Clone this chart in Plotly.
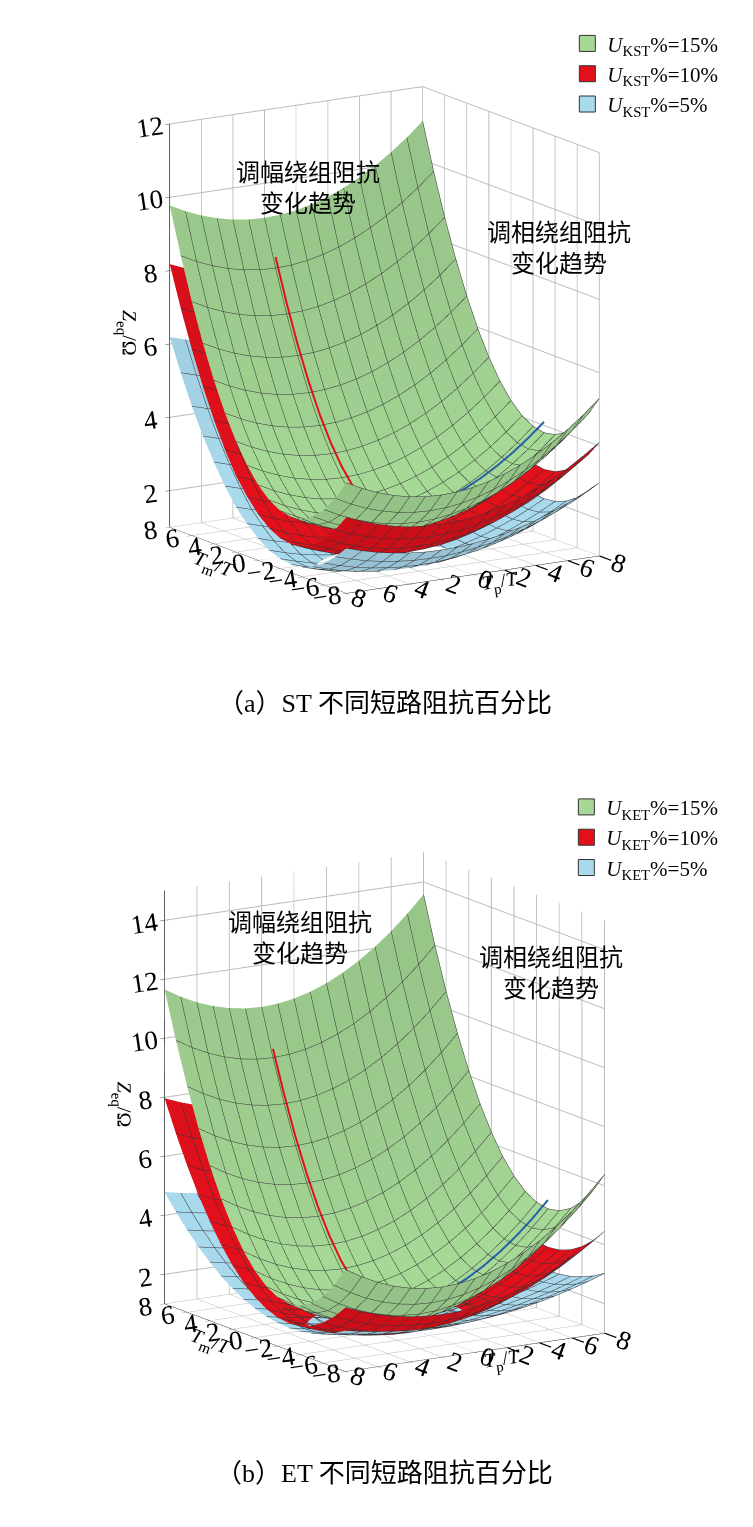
import plotly.graph_objects as go
import numpy as np

Tm = list(range(-8, 9))
Tp = list(range(-8, 9))

a_green_zm = [1.5,0.96,0.54,0.24,0.06,0,0.06,0.24,0.54,0.96,1.5,2.16,2.94,3.84,4.86,6.0,7.26]
a_green_zp = [3.8,3.42,3.08,2.78,2.52,2.3,2.12,1.98,1.88,1.82,1.8,1.82,1.88,1.98,2.12,2.3,2.52]
a_red_zm = [1.3,0.85,0.48,0.21,0.05,0,0.05,0.21,0.48,0.85,1.3,1.9,2.6,3.4,4.3,5.3,6.4]
a_red_zp = [2.8,2.5,2.22,1.98,1.78,1.6,1.46,1.34,1.26,1.22,1.2,1.22,1.26,1.34,1.46,1.6,1.78]
a_blue_zm = [1.0,0.66,0.37,0.16,0.04,0,0.04,0.16,0.37,0.66,1.0,1.46,2.0,2.6,3.3,4.1,4.96]
a_blue_zp = [2.0,1.77,1.57,1.39,1.23,1.1,0.99,0.91,0.85,0.81,0.8,0.81,0.85,0.91,0.99,1.1,1.23]

# panel (b)
b_green_zm = [1.88,1.2,0.68,0.3,0.08,0,0.08,0.3,0.68,1.2,1.88,2.7,3.68,4.8,6.08,7.5,9.08]
b_green_zp = [4.5,3.93,3.42,2.97,2.58,2.25,1.98,1.77,1.62,1.53,1.5,1.53,1.62,1.77,1.98,2.25,2.58]
b_red_zm = [1.25,0.8,0.45,0.2,0.05,0,0.05,0.2,0.45,0.8,1.25,1.8,2.45,3.2,4.05,5.0,6.05]
b_red_zp = [3.2,2.82,2.48,2.18,1.92,1.7,1.52,1.38,1.28,1.22,1.2,1.22,1.28,1.38,1.52,1.7,1.92]
b_blue_zm = [0.63,0.4,0.23,0.1,0.03,0,0.03,0.1,0.23,0.4,0.63,0.9,1.23,1.6,2.03,2.5,3.03]
b_blue_zp = [2.4,2.21,2.04,1.89,1.76,1.65,1.56,1.49,1.44,1.41,1.4,1.41,1.44,1.49,1.56,1.65,1.76]

a_labels = ["<i>U</i><sub>KST</sub>%=15%", "<i>U</i><sub>KST</sub>%=10%", "<i>U</i><sub>KST</sub>%=5%"]
b_labels = ["<i>U</i><sub>KET</sub>%=15%", "<i>U</i><sub>KET</sub>%=10%", "<i>U</i><sub>KET</sub>%=5%"]
colors = ["#a6d896", "#e3101c", "#a9d9ec"]
FONT = "Liberation Serif, Noto Sans CJK SC"

fig = go.Figure()

def grid(zm, zp):
    return np.add.outer(np.array(zp), np.array(zm))

def add_panel(scene, legend, profiles, labels):
    for (zm, zp), col, lab in zip(profiles, colors, labels):
        Z = grid(zm, zp)
        fig.add_trace(go.Surface(
            x=Tm, y=Tp, z=Z, scene=scene, showscale=False,
            colorscale=[[0, col], [1, col]], opacity=1,
            lighting=dict(ambient=0.9, diffuse=0.2, specular=0.05),
            contours=dict(
                x=dict(show=True, start=-8, end=8, size=1, color="#333", width=1),
                y=dict(show=True, start=-8, end=8, size=1, color="#333", width=1)),
            hoverinfo="skip", showlegend=False))
        fig.add_trace(go.Scatter3d(
            x=[None], y=[None], z=[None], scene=scene, mode="markers",
            marker=dict(symbol="square", size=16, color=col, line=dict(color="#333", width=1)),
            name=lab, legend=legend, showlegend=True))
    g_zm, g_zp = profiles[0]
    idx = list(range(3, 16))
    fig.add_trace(go.Scatter3d(x=[Tm[i] for i in idx], y=[2]*len(idx),
        z=[g_zm[i] + g_zp[10] + 0.3 for i in idx], scene=scene, mode="lines",
        line=dict(color="#e3101c", width=4), showlegend=False, hoverinfo="skip"))
    idx2 = list(range(0, 11))
    fig.add_trace(go.Scatter3d(x=[-3]*len(idx2), y=[Tp[i] for i in idx2],
        z=[g_zp[i] + g_zm[5] + 0.3 for i in idx2], scene=scene, mode="lines",
        line=dict(color="#2a5fa8", width=4), showlegend=False, hoverinfo="skip"))

add_panel("scene", "legend",
          [(a_green_zm, a_green_zp), (a_red_zm, a_red_zp), (a_blue_zm, a_blue_zp)], a_labels)
add_panel("scene2", "legend2",
          [(b_green_zm, b_green_zp), (b_red_zm, b_red_zp), (b_blue_zm, b_blue_zp)], b_labels)

ax = dict(showbackground=True, backgroundcolor="white", gridcolor="#bbb",
          linecolor="black", showline=True, ticks="outside",
          tickfont=dict(size=18, family=FONT), tickvals=list(range(-8, 9, 2)),
          range=[-8, 8], title_font=dict(size=20, family=FONT))
cam = dict(eye=dict(x=-1.75, y=1.1, z=0.5), center=dict(x=0, y=0, z=0.0),
           projection=dict(type="orthographic"))

def scene_cfg(domain_y, zr, zt):
    return dict(domain=dict(x=[0, 1], y=domain_y),
                xaxis=dict(ax, title=dict(text="<i>T</i><sub>m</sub>/<i>T</i>")),
                yaxis=dict(ax, title=dict(text="<i>T</i><sub>p</sub>/<i>T</i>")),
                zaxis=dict(ax, range=zr, tickvals=zt,
                           title=dict(text="<i>Z</i><sub>eq</sub>/Ω")),
                aspectmode="manual", aspectratio=dict(x=1, y=0.9, z=1.25),
                camera=cam)

fig.update_layout(
    width=753, height=1527, paper_bgcolor="white",
    margin=dict(l=0, r=0, t=0, b=0),
    font=dict(family=FONT, size=18, color="black"),
    scene=scene_cfg([0.565, 1.0], [1, 12], [2, 4, 6, 8, 10, 12]),
    scene2=scene_cfg([0.055, 0.5], [1, 15], [2, 4, 6, 8, 10, 12, 14]),
    legend=dict(x=0.95, y=0.99, xanchor="right", yanchor="top",
                bgcolor="rgba(255,255,255,0)", font=dict(size=21, family=FONT)),
    legend2=dict(x=0.95, y=0.49, xanchor="right", yanchor="top",
                 bgcolor="rgba(255,255,255,0)", font=dict(size=21, family=FONT)),
    annotations=[
        dict(text="（a）ST 不同短路阻抗百分比", x=0.5, y=1 - 695/1527, xref="paper", yref="paper",
             showarrow=False, font=dict(size=26)),
        dict(text="（b）ET 不同短路阻抗百分比", x=0.5, y=1 - 1482/1527, xref="paper", yref="paper",
             showarrow=False, font=dict(size=26)),
        dict(text="调幅绕组阻抗<br>变化趋势", x=0.30, y=1 - 150/1527, xref="paper", yref="paper",
             showarrow=False, font=dict(size=24)),
        dict(text="调相绕组阻抗<br>变化趋势", x=0.83, y=1 - 210/1527, xref="paper", yref="paper",
             showarrow=False, font=dict(size=24)),
        dict(text="调幅绕组阻抗<br>变化趋势", x=0.29, y=1 - 930/1527, xref="paper", yref="paper",
             showarrow=False, font=dict(size=24)),
        dict(text="调相绕组阻抗<br>变化趋势", x=0.82, y=1 - 965/1527, xref="paper", yref="paper",
             showarrow=False, font=dict(size=24)),
    ],
)

fig.write_html("out.html")
